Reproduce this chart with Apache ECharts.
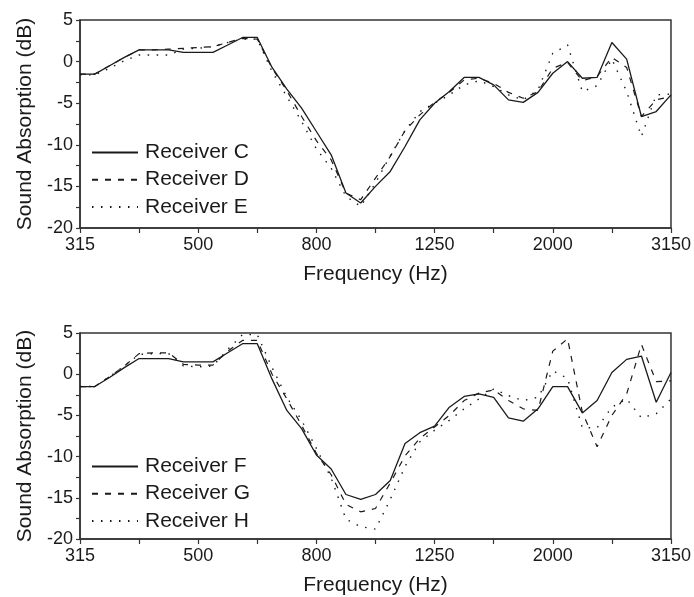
<!DOCTYPE html>
<html>
<head>
<meta charset="utf-8">
<title>Sound Absorption</title>
<script src="https://cdn.jsdelivr.net/npm/echarts@6.0.0/dist/echarts.min.js"></script>
<style>
  html, body { margin: 0; padding: 0; background: #fff; }
  #main { width: 694px; height: 597px; }
</style>
</head>
<body>
<div id="main"></div>
<script>
// x position in third-octave bands from 315 Hz (quarter-band steps)
var bandPos = [0, 0.25, 0.5, 0.75, 1, 1.25, 1.5, 1.75, 2, 2.25, 2.5, 2.75, 3, 3.25, 3.5, 3.75,
  4, 4.25, 4.5, 4.75, 5, 5.25, 5.5, 5.75, 6, 6.25, 6.5, 6.75, 7, 7.25, 7.5, 7.75,
  8, 8.25, 8.5, 8.75, 9, 9.25, 9.5, 9.75, 10];
var tickLabels = ['315', '', '500', '', '800', '', '1250', '', '2000', '', '3150'];

// top panel
var recC = [-1.5, -1.5, -0.5, 0.5, 1.4, 1.4, 1.4, 1.1, 1.1, 1.1, 2.0, 2.9, 2.9, -0.7, -3.3, -5.6,
  -8.4, -11.2, -15.8, -17.0, -15.0, -13.2, -10.2, -7.0, -5.0, -3.6, -1.9, -1.9, -2.8, -4.6, -4.9, -3.7,
  -1.4, 0.0, -2.0, -1.9, 2.3, 0.3, -6.6, -6.0, -4.0];
var recD = [-1.5, -1.5, -0.5, 0.5, 1.4, 1.4, 1.5, 1.6, 1.7, 1.8, 2.3, 2.8, 2.7, -0.8, -3.5, -6.6,
  -9.5, -11.8, -15.8, -16.6, -14.0, -11.4, -8.3, -6.4, -4.9, -3.7, -2.2, -2.0, -2.6, -3.7, -4.4, -3.6,
  -0.8, -0.1, -2.3, -1.8, 0.5, -0.7, -6.6, -4.6, -4.2];
var recE = [-1.6, -1.6, -0.8, 0.1, 0.8, 0.8, 0.8, 1.5, 1.6, 1.8, 2.3, 2.7, 2.7, -1.2, -4.2, -7.2,
  -10.5, -12.8, -16.2, -17.4, -14.6, -11.3, -8.3, -6.0, -5.0, -4.0, -2.8, -2.3, -3.0, -4.0, -4.6, -3.4,
  1.0, 2.0, -3.6, -2.9, 0.3, -3.6, -9.0, -4.0, -3.9];

// bottom panel
var recF = [-1.5, -1.5, -0.4, 0.8, 1.9, 1.9, 1.9, 1.5, 1.5, 1.5, 2.6, 3.7, 3.7, -0.6, -4.4, -6.6,
  -9.8, -11.5, -14.6, -15.2, -14.6, -12.9, -8.4, -7.1, -6.3, -4.0, -2.7, -2.4, -2.8, -5.3, -5.7, -4.2,
  -1.5, -1.5, -4.7, -3.2, 0.2, 1.8, 2.2, -3.4, 0.2];
var recG = [-1.5, -1.5, -0.3, 1.0, 2.5, 2.6, 2.6, 1.2, 1.1, 1.1, 2.8, 4.1, 4.1, 0.0, -3.0, -6.2,
  -9.6, -12.2, -15.8, -16.7, -16.3, -13.2, -9.9, -7.8, -6.4, -5.0, -3.2, -2.3, -1.9, -3.2, -4.2, -4.4,
  2.8, 4.3, -4.6, -8.8, -5.0, -2.4, 3.6, -0.9, -0.8];
var recH = [-1.5, -1.5, -0.3, 1.0, 2.4, 2.5, 2.5, 1.0, 0.9, 1.0, 3.0, 4.8, 4.8, 0.8, -2.8, -5.6,
  -9.0, -12.6, -17.6, -18.5, -18.8, -15.2, -11.2, -8.2, -6.8, -5.6, -4.2, -3.0, -1.8, -2.6, -3.2, -2.8,
  0.4, -0.5, -6.5, -6.5, -4.0, -3.0, -5.3, -4.8, -3.0];

var ink = '#1a1a1a';
var font = 'Liberation Sans, Arial, sans-serif';

function pairs(vals) {
  return bandPos.map(function (x, i) { return [x, vals[i]]; });
}

function xAxisFor(idx) {
  return {
    type: 'value', gridIndex: idx, min: 0, max: 10, interval: 1,
    name: 'Frequency (Hz)', nameLocation: 'middle', nameGap: 36,
    nameTextStyle: { fontSize: 21, color: ink, fontFamily: font },
    axisLine: { onZero: false, lineStyle: { color: '#333', width: 1.5 } },
    axisTick: { inside: false, length: 5, lineStyle: { color: '#333', width: 1.2 } },
    axisLabel: {
      margin: 8, fontSize: 18, color: ink, fontFamily: font,
      formatter: function (v) { return tickLabels[Math.round(v)] || ''; }
    },
    splitLine: { show: false }
  };
}

function yAxisFor(idx) {
  return {
    type: 'value', gridIndex: idx, min: -20, max: 5, interval: 5,
    name: 'Sound Absorption (dB)', nameLocation: 'middle', nameGap: 44, nameRotate: 90,
    nameTextStyle: { fontSize: 21, color: ink, fontFamily: font },
    axisLine: { show: true, onZero: false, lineStyle: { color: '#333', width: 1.5 } },
    axisTick: { show: true, length: 4, lineStyle: { color: '#333', width: 1.2 } },
    minorTick: { show: true, splitNumber: 2, length: 4, lineStyle: { color: '#333', width: 1.2 } },
    axisLabel: { margin: 7, fontSize: 18, color: ink, fontFamily: font },
    splitLine: { show: false }
  };
}

function lineSeries(name, vals, idx, dash, width) {
  return {
    name: name, type: 'line', xAxisIndex: idx, yAxisIndex: idx,
    data: pairs(vals), symbol: 'none', smooth: false,
    lineStyle: { color: ink, width: width, type: dash },
    itemStyle: { color: ink }
  };
}

function legendFor(names, top) {
  return {
    data: names, orient: 'vertical', left: 91, top: top, padding: 0,
    itemWidth: 46, itemHeight: 20, itemGap: 6.2, itemStyle: { opacity: 0 },
    textStyle: { fontSize: 21, color: ink, fontFamily: font, lineHeight: 20, padding: [0, 0, 0, 2] }
  };
}

var myChart = echarts.init(document.getElementById('main'));

option = {
  animation: false,
  backgroundColor: '#fff',
  grid: [
    { left: 80, top: 20, width: 593, height: 208, show: true, borderColor: '#333', borderWidth: 1.5 },
    { left: 80, top: 333, width: 593, height: 208, show: true, borderColor: '#333', borderWidth: 1.5 }
  ],
  legend: [
    legendFor(['Receiver C', 'Receiver D', 'Receiver E'], 142),
    legendFor(['Receiver F', 'Receiver G', 'Receiver H'], 456)
  ],
  xAxis: [xAxisFor(0), xAxisFor(1)],
  yAxis: [yAxisFor(0), yAxisFor(1)],
  series: [
    lineSeries('Receiver C', recC, 0, 'solid', 1.3),
    lineSeries('Receiver D', recD, 0, [6, 7], 1.2),
    lineSeries('Receiver E', recE, 0, [1.5, 7.5], 1.4),
    lineSeries('Receiver F', recF, 1, 'solid', 1.3),
    lineSeries('Receiver G', recG, 1, [6, 7], 1.2),
    lineSeries('Receiver H', recH, 1, [1.5, 7.5], 1.4)
  ]
};

myChart.setOption(option);
</script>
</body>
</html>
